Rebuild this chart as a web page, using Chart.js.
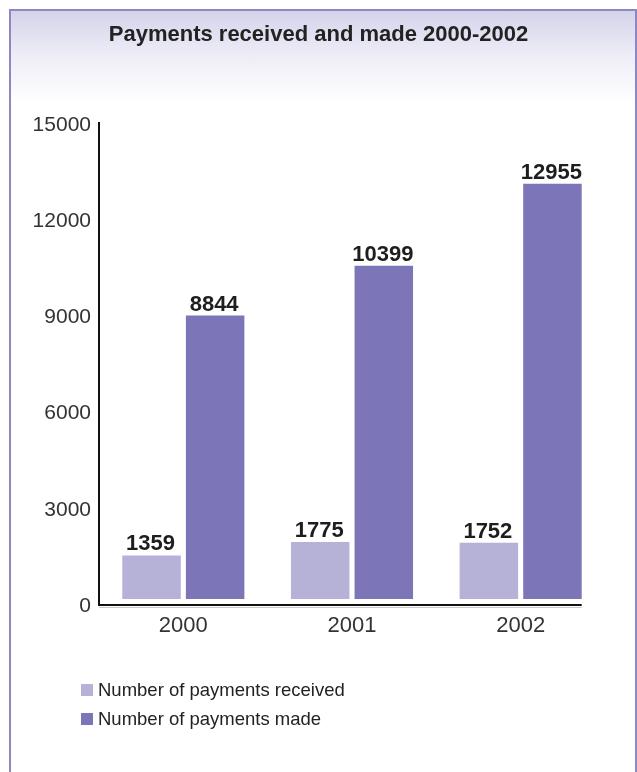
<!DOCTYPE html>
<html lang="en">
<head>
  <meta charset="UTF-8" />
  <title>Payments received and made 2000-2002</title>
  <style>
    html, body { margin: 0; padding: 0; background: #fff; }
    #frame {
      position: absolute; left: 9px; top: 9px;
      width: 624px; height: 780px;
      border: 2px solid #8d87c7; border-bottom: none;
      background: linear-gradient(to bottom, #d5d3ea 0px, #eeedf7 45px, #ffffff 92px);
    }
    #wrap { position: relative; width: 624px; height: 761px; }
  </style>
</head>
<body>

<div id="frame">
  <div id="wrap"><canvas id="chart"></canvas></div>
</div>

<script src="https://cdn.jsdelivr.net/npm/chart.js@4"></script>
<script>
const years = ['2000', '2001', '2002'];
const received = [1359, 1775, 1752];
const made = [8844, 10399, 12955];
const yTicks = [0, 3000, 6000, 9000, 12000, 15000];

const FONT = "'Liberation Sans', Arial, Helvetica, sans-serif";

// numbers over each bar
const valueLabels = {
  id: 'valueLabels',
  afterDatasetsDraw(chart) {
    const ctx = chart.ctx;
    ctx.save();
    ctx.font = 'bold 22px ' + FONT;
    ctx.fillStyle = '#1e1e1e';
    ctx.textAlign = 'center';
    ctx.textBaseline = 'alphabetic';
    chart.data.datasets.forEach((ds, i) => {
      chart.getDatasetMeta(i).data.forEach((bar, j) => {
        ctx.fillText(String(ds.data[j]), bar.x - 1, bar.y - 5);
      });
    });
    ctx.restore();
  }
};

// x axis line stops at the right edge of the last bar
const baseLine = {
  id: 'baseLine',
  afterDraw(chart) {
    const ctx = chart.ctx;
    const a = chart.chartArea;
    const meta = chart.getDatasetMeta(chart.data.datasets.length - 1);
    const last = meta.data[meta.data.length - 1];
    const right = last.x + last.width / 2;
    ctx.save();
    ctx.strokeStyle = '#c8c8c8';
    ctx.lineWidth = 1;
    ctx.beginPath();
    ctx.moveTo(a.left, a.bottom + 2.5);
    ctx.lineTo(right, a.bottom + 2.5);
    ctx.stroke();
    ctx.strokeStyle = '#111';
    ctx.lineWidth = 2;
    ctx.beginPath();
    ctx.moveTo(a.left - 1, a.bottom);
    ctx.lineTo(right, a.bottom);
    ctx.stroke();
    ctx.restore();
  }
};

// stacked legend under the axis
const stackedLegend = {
  id: 'stackedLegend',
  afterDraw(chart) {
    const ctx = chart.ctx;
    const a = chart.chartArea;
    ctx.save();
    ctx.font = '18.5px ' + FONT;
    ctx.textBaseline = 'middle';
    chart.data.datasets.forEach((ds, i) => {
      const y = a.bottom + 85 + i * 29;
      const x = a.left - 18;
      ctx.fillStyle = ds.backgroundColor;
      ctx.fillRect(x, y - 6, 12, 12);
      ctx.fillStyle = '#222';
      ctx.fillText(ds.label, x + 17, y + 1);
    });
    ctx.restore();
  }
};

new Chart(document.getElementById('chart'), {
  type: 'bar',
  data: {
    labels: years,
    datasets: [
      { label: 'Number of payments received', data: received, backgroundColor: '#b5b1d7' },
      { label: 'Number of payments made', data: made, backgroundColor: '#7c75b7' }
    ]
  },
  options: {
    responsive: true,
    maintainAspectRatio: false,
    animation: false,
    layout: { padding: { left: 21, right: 30, top: 0, bottom: 107 } },
    datasets: {
      bar: { categoryPercentage: 0.754, barPercentage: 0.92 }
    },
    plugins: {
      legend: { display: false },
      tooltip: { enabled: false },
      title: {
        display: true,
        text: 'Payments received and made 2000-2002',
        color: '#222',
        font: { family: FONT, size: 22, weight: 'bold' },
        padding: { top: 11, bottom: 74.6 }
      }
    },
    scales: {
      x: {
        grid: { display: false, drawTicks: false },
        border: { display: false },
        ticks: { color: '#333', padding: 8, font: { family: FONT, size: 22 } },
        afterFit(s) { s.height = 60; }
      },
      y: {
        min: -187,
        max: 14850,
        grid: { display: false, drawTicks: false },
        border: { display: true, color: '#111', width: 2 },
        afterBuildTicks(s) { s.ticks = yTicks.map(v => ({ value: v })); },
        afterFit(s) { s.width = 67; },
        ticks: {
          color: '#333',
          padding: 8,
          labelOffset: 7,
          font: { family: FONT, size: 21 },
          callback: v => String(v)
        }
      }
    }
  },
  plugins: [valueLabels, baseLine, stackedLegend]
});
</script>

</body>
</html>
